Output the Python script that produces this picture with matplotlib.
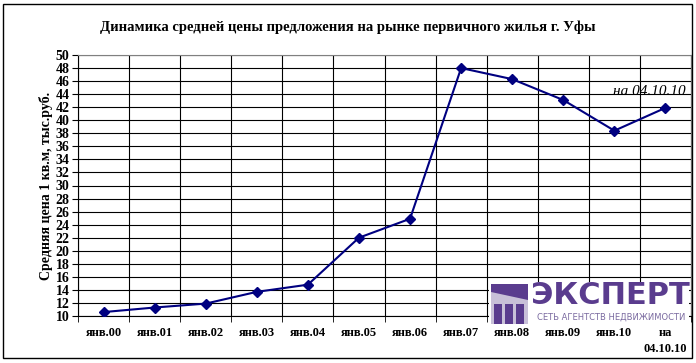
import matplotlib.pyplot as plt
import matplotlib.patches as mpatches
import numpy as np

# ------------ DATA --------------------------------------------------
labels = ['янв.00', 'янв.01', 'янв.02', 'янв.03', 'янв.04', 'янв.05',
          'янв.06', 'янв.07', 'янв.08', 'янв.09', 'янв.10', 'на\n04.10.10']
prices = [10.6, 11.3, 11.9, 13.7, 14.8, 22.0, 24.9, 48.0, 46.3, 43.1, 38.4, 41.9]
yticks = list(range(10, 51, 2))

plt.rcParams['font.family'] = ['Liberation Serif', 'DejaVu Serif']

W, H = 696, 363
fig = plt.figure(figsize=(W / 100, H / 100), dpi=100)
ax = fig.add_axes([78 / W, 1 - 316 / H, (691 - 78) / W, (316 - 55) / H])

x = np.arange(len(labels))
ax.plot(x, prices, color='#000080', lw=1.5, marker='D', ms=5.5, zorder=3)

ax.set_xlim(-0.5, len(labels) - 0.5)
ax.set_ylim(10, 50)
ax.set_yticks(yticks)
ax.set_yticklabels([str(t) for t in yticks], fontsize=10, fontweight='bold')
ax.set_xticks(x)
ax.set_xticklabels(labels, fontsize=9, fontweight='bold', linespacing=1.45)
ax.tick_params(axis='x', length=0, pad=8)
ax.tick_params(axis='y', length=4, pad=2)
ax.set_xticks(np.arange(-0.5, len(labels), 1), minor=True)
ax.tick_params(axis='x', which='minor', length=4, direction='out')
ax.grid(True, axis='y', color='black', lw=0.8)
ax.grid(True, axis='x', which='minor', color='black', lw=0.8)
for s in ['top', 'right']:
    ax.spines[s].set_color('#808080')
ax.set_ylabel('Средняя цена 1 кв.м, тыс.руб.', fontsize=10, fontweight='bold', labelpad=2)

ax.annotate('на 04.10.10', (x[-1], prices[-1]), xytext=(-38, 9),
            textcoords='offset points', fontsize=11, fontstyle='italic', ha='left')

fig.text(0.5, 1 - 27 / H, 'Динамика средней цены предложения на рынке первичного жилья г. Уфы',
         ha='center', va='center', fontsize=10.5, fontweight='bold')

# ------------ LOGO ----------------------------------------------------
purple = '#5a3c8e'
fig.patches.append(mpatches.Rectangle((489 / W, 1 - 326 / H), 200 / W, 44 / H,
                                      transform=fig.transFigure, facecolor='white',
                                      edgecolor='none', zorder=5))
fig.patches.append(mpatches.Rectangle((491 / W, 1 - 324 / H), 37 / W, 40 / H,
                                      transform=fig.transFigure, facecolor='#c8c0d8',
                                      edgecolor='none', zorder=6))
fig.patches.append(mpatches.Polygon([(491 / W, 1 - 284 / H), (528 / W, 1 - 284 / H),
                                     (528 / W, 1 - 300 / H), (491 / W, 1 - 292 / H)],
                                    closed=True, transform=fig.transFigure,
                                    facecolor=purple, edgecolor='none', zorder=7))
for cx in [498, 509, 520]:
    fig.patches.append(mpatches.Rectangle(((cx - 4) / W, 1 - 324 / H), 8 / W, 20 / H,
                                          transform=fig.transFigure, facecolor=purple,
                                          edgecolor='none', zorder=7))
fig.text(610 / W, 1 - 296 / H, 'ЭКСПЕРТ', ha='center', va='center', fontsize=22,
         fontweight='bold', color=purple, family=['DejaVu Sans'], zorder=8)
fig.text(611 / W, 1 - 317 / H, 'СЕТЬ АГЕНТСТВ НЕДВИЖИМОСТИ', ha='center', va='center',
         fontsize=6, color='#7a6aa0', family=['DejaVu Sans'], zorder=8)

# ------------ FRAME ---------------------------------------------------
fig.patches.append(mpatches.Rectangle((3 / W, 1 - 358 / H), 689 / W, 354 / H,
                                      transform=fig.transFigure, fill=False,
                                      edgecolor='black', lw=1.0, zorder=9))

fig.savefig('out.png', dpi=100)
